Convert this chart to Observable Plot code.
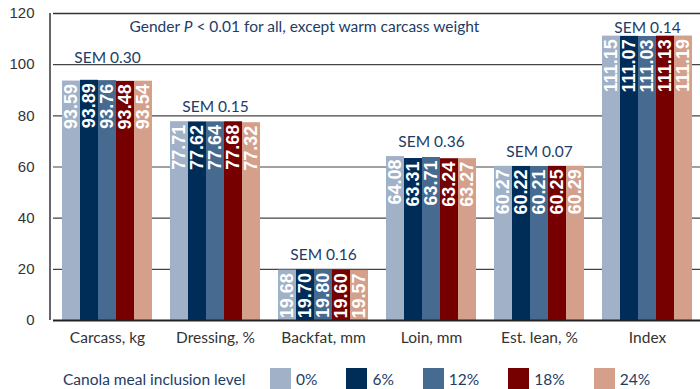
<!DOCTYPE html>
<html>
<head>
<meta charset="utf-8">
<script src="https://cdn.jsdelivr.net/npm/d3@7"></script>
<script src="https://cdn.jsdelivr.net/npm/@observablehq/plot@0.6"></script>
<style>
  html, body { margin: 0; padding: 0; background: #fff; }
  #chart { width: 700px; }
  .legend { display: flex; align-items: center; height: 21px; margin-top: 13px; padding-left: 63px;
            font-family: Lato, sans-serif; font-size: 15.5px; color: #1d3c66; }
  .legend .title { width: 207px; }
  .legend .item { display: flex; align-items: center; margin-right: 29px; }
  .legend .sw { width: 21px; height: 21px; margin-right: 5px; }
</style>
</head>
<body>
<div id="chart"></div>
<script>
// ---- data ----
const measures = ["Carcass, kg", "Dressing, %", "Backfat, mm", "Loin, mm", "Est. lean, %", "Index"];
const levels = ["0%", "6%", "12%", "18%", "24%"];
const level0 = [93.59, 77.71, 19.68, 64.08, 60.27, 111.15];
const level6 = [93.89, 77.62, 19.70, 63.31, 60.22, 111.07];
const level12 = [93.76, 77.64, 19.80, 63.71, 60.21, 111.03];
const level18 = [93.48, 77.68, 19.60, 63.24, 60.25, 111.13];
const level24 = [93.54, 77.32, 19.57, 63.27, 60.29, 111.19];
const sem = [0.30, 0.15, 0.16, 0.36, 0.07, 0.14];
const yTicks = [0, 20, 40, 60, 80, 100, 120];
const note = "Gender P < 0.01 for all, except warm carcass weight";
const legendTitle = "Canola meal inclusion level";
const colors = ["#a0b1c8", "#002c58", "#466a90", "#760000", "#d4a08b"];

const series = [level0, level6, level12, level18, level24];
const data = measures.flatMap((m, i) => levels.map((l, j) => ({measure: m, level: l, value: series[j][i]})));
const gridTicks = yTicks.filter(t => t > 0 && t < d3.max(yTicks));
// SEM label baseline: a little above the tallest bar; pushed above a gridline that would cut
// through the label, and kept below the top frame line
function semBaseline(top) {
  let y = top + 3.7;
  const g = gridTicks.find(t => t > y - 0.5 && t < y + 5);
  if (g !== undefined) y = g + 0.8;
  return Math.min(y, d3.max(yTicks) - 7.5);
}
const semData = measures.map((m, i) => {
  const top = d3.max(series, s => s[i]);
  return {measure: m, sem: sem[i], top, base: semBaseline(top)};
});
const navy = "#1d3c66";
const marginLeft = 50;

const chart = Plot.plot({
  width: 700,
  height: 355,
  marginLeft,
  marginRight: -3,
  marginTop: 13,
  marginBottom: 35,
  style: {fontFamily: "Lato, sans-serif", fontSize: "15px", background: "white", color: "#333"},
  fx: {domain: measures, paddingInner: 0, paddingOuter: 0, label: null, axis: null},
  x: {domain: levels, paddingInner: 0, paddingOuter: 0.43, axis: null},
  y: {domain: [0, 120], axis: null},
  color: {domain: levels, range: colors},
  marks: [
    Plot.ruleY(gridTicks, {stroke: "#444", strokeWidth: 1.2}),
    Plot.ruleY([d3.max(yTicks)], {stroke: "#333", strokeWidth: 1.5}),
    Plot.barY(data, {fx: "measure", x: "level", y: "value", fill: "level"}),
    Plot.text(data, {fx: "measure", x: "level", y: "value", text: d => d.value.toFixed(2),
      rotate: -90, textAnchor: "end", dy: 3, fill: "white",
      fontFamily: "Liberation Sans, Arial, sans-serif", fontWeight: "bold", fontSize: 18}),
    Plot.text(semData, {fx: "measure", y: "base", text: d => "SEM " + d.sem.toFixed(2),
      dy: -5, fill: navy, fontSize: 15.5}),
    Plot.ruleY([0], {stroke: "#222", strokeWidth: 2}),
    Plot.axisY({ticks: yTicks, tickSize: 0, tickPadding: 19, fontFamily: "Liberation Sans, Arial, sans-serif",
      fontSize: 15, color: "#333", label: null}),
    Plot.axisFx({anchor: "bottom", tickSize: 0, tickPadding: 11, fontSize: 15.5, color: "#333", label: null}),
    Plot.text([note], {facet: "super", frameAnchor: "top-left", textAnchor: "start", lineAnchor: "top",
      dx: 76, dy: 7, fill: navy, fontSize: 15.5})
  ]
});

// italic P in the note
d3.select(chart).selectAll("text").filter(function() { return this.textContent === note; })
  .each(function() {
    const t = d3.select(this);
    t.text(null);
    t.append("tspan").text("Gender ");
    t.append("tspan").attr("font-style", "italic").text("P");
    t.append("tspan").text(" < 0.01 for all, except warm carcass weight");
  });

// left frame line, spanning the y scale's range
const yRange = chart.scale("y").range;
d3.select(chart).append("line")
  .attr("x1", marginLeft).attr("x2", marginLeft)
  .attr("y1", yRange[0]).attr("y2", yRange[1])
  .attr("stroke", "#333").attr("stroke-width", 1.5);

document.getElementById("chart").appendChild(chart);

// legend
const legend = d3.select("#chart").append("div").attr("class", "legend");
legend.append("span").attr("class", "title").text(legendTitle);
levels.forEach((l, i) => {
  const item = legend.append("span").attr("class", "item");
  item.append("span").attr("class", "sw").style("background", colors[i]);
  item.append("span").text(l);
});
</script>
</body>
</html>
